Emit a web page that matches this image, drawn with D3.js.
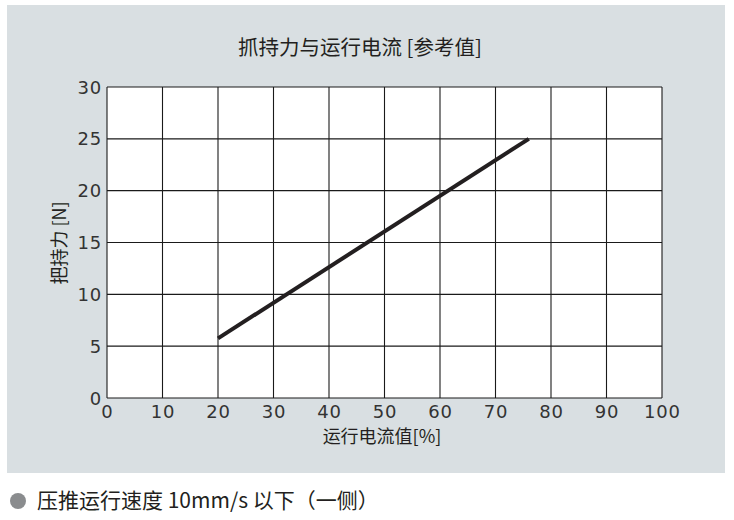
<!DOCTYPE html>
<html><head><meta charset="utf-8">
<script src="https://cdn.jsdelivr.net/npm/d3@7"></script>
<style>body{margin:0;background:#fff}svg{display:block}text{font-family:"Noto Sans CJK SC","Noto Sans",sans-serif}</style>
</head><body>
<svg id="c" width="734" height="520"></svg>
<script>
const xTicks = [0,10,20,30,40,50,60,70,80,90,100];
const yTicks = [0,5,10,15,20,25,30];
const currentPct = [20, 76];
const gripForce = [5.75, 25.0];
const title = "抓持力与运行电流 [参考值]";
const xLabel = "运行电流值[%]";
const yLabel = "把持力 [N]";
const note = "压推运行速度 10mm/s 以下（一侧）";

const svg = d3.select("#c");
svg.append("rect").attr("x",7).attr("y",5).attr("width",718).attr("height",468).attr("fill","#d9dfe2");
const L=107,R=662,T=87,B=398;
const x = d3.scaleLinear().domain([0,100]).range([L,R]);
const y = d3.scaleLinear().domain([0,30]).range([B,T]);
svg.append("rect").attr("x",L).attr("y",T).attr("width",R-L).attr("height",B-T).attr("fill","#fff");
const g = svg.append("g");
g.selectAll("line.v").data(xTicks).join("line").attr("x1",d=>x(d)).attr("x2",d=>x(d)).attr("y1",T).attr("y2",B).attr("stroke","#1a1a1a").attr("stroke-width",1.1);
g.selectAll("line.h").data(yTicks).join("line").attr("y1",d=>y(d)).attr("y2",d=>y(d)).attr("x1",L).attr("x2",R).attr("stroke","#1a1a1a").attr("stroke-width",1.1);

const tickFont = "18px";
svg.selectAll("text.xt").data(xTicks).join("text").attr("x",d=>x(d)+0.5).attr("y",418)
  .attr("text-anchor","middle").attr("font-size",tickFont).attr("fill","#333").style("letter-spacing","0.8px").style("font-family","'DejaVu Sans',sans-serif").text(d=>d);
svg.selectAll("text.yt").data(yTicks).join("text").attr("x",102).attr("y",d=>y(d)+ (d===0?7:6.5))
  .attr("text-anchor","end").attr("font-size",tickFont).attr("fill","#333").style("letter-spacing","0.8px").style("font-family","'DejaVu Sans',sans-serif").text(d=>d);

const data = currentPct.map((v,i)=>[v,gripForce[i]]);
svg.append("path").datum(data).attr("d",d3.line().x(d=>x(d[0])).y(d=>y(d[1])))
  .attr("stroke","#231f20").attr("stroke-width",4).attr("fill","none");

svg.append("text").attr("x",360).attr("y",55).attr("text-anchor","middle").attr("font-size","20.5px").attr("fill","#231f20").text(title);
svg.append("text").attr("x",382).attr("y",443).attr("text-anchor","middle").attr("font-size","18px").attr("fill","#231f20").text(xLabel);
svg.append("text").attr("transform","translate(66,243) rotate(-90)").attr("text-anchor","middle").attr("font-size","18px").attr("fill","#231f20").text(yLabel);
svg.append("circle").attr("cx",18).attr("cy",501).attr("r",8).attr("fill","#8a8c8e");
svg.append("text").attr("x",37).attr("y",508).attr("font-size","21px").attr("fill","#231f20").text(note);
</script>
</body></html>
